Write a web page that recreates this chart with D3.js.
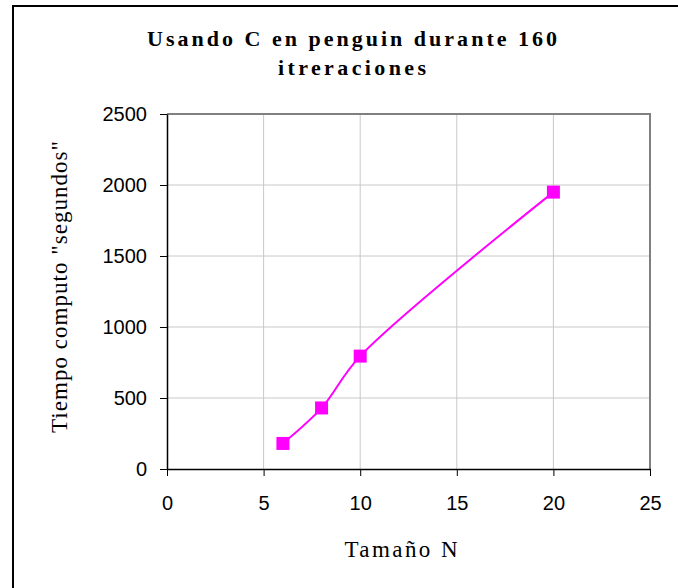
<!DOCTYPE html>
<html>
<head>
<meta charset="utf-8">
<script src="https://cdn.jsdelivr.net/npm/d3@7"></script>
<style>
  body { margin: 0; background: #fff; }
  svg { display: block; }
</style>
</head>
<body>
<div id="chart"></div>
<script>
// data
const tamanoN = [6, 8, 10, 20];
const tiempo = [180, 430, 795, 1950];
const xTicks = [0, 5, 10, 15, 20, 25];
const yTicks = [0, 500, 1000, 1500, 2000, 2500];
const titleLines = ["Usando C en penguin durante 160", "itreraciones"];

const width = 678, height = 588;
const margin = { top: 114, right: 28, bottom: 119, left: 167 };
const plotW = width - margin.left - margin.right,
  plotH = height - margin.top - margin.bottom;

const serif = "'Liberation Serif', 'Times New Roman', serif";

const svg = d3.select("#chart")
  .append("svg")
  .attr("width", width)
  .attr("height", height);

// outer chart frame (runs off the right and bottom edges)
svg.append("rect")
  .attr("x", 13).attr("y", 6)
  .attr("width", width + 20).attr("height", height + 20)
  .attr("fill", "none")
  .attr("stroke", "#000")
  .attr("stroke-width", 2);

const g = svg.append("g")
  .attr("transform", `translate(${margin.left},${margin.top})`);

const x = d3.scaleLinear().domain([0, 25]).range([0, plotW]);
const y = d3.scaleLinear().domain([0, 2500]).range([plotH, 0]);

// gridlines
g.selectAll(".vgrid")
  .data(xTicks.slice(1))
  .join("line")
  .attr("x1", d => x(d)).attr("x2", d => x(d))
  .attr("y1", 0).attr("y2", plotH)
  .attr("stroke", "#c8c8c8")
  .attr("stroke-width", 1);

g.selectAll(".hgrid")
  .data(yTicks.slice(1))
  .join("line")
  .attr("x1", 0).attr("x2", plotW)
  .attr("y1", d => y(d)).attr("y2", d => y(d))
  .attr("stroke", "#c8c8c8")
  .attr("stroke-width", 1);

// plot area border (top and right grey)
g.append("path")
  .attr("d", `M0,0H${plotW}V${plotH}`)
  .attr("fill", "none")
  .attr("stroke", "#808080")
  .attr("stroke-width", 2);

// axes
const xAxis = g.append("g")
  .attr("transform", `translate(0,${plotH})`)
  .call(d3.axisBottom(x).tickValues(xTicks).tickFormat(d3.format("d"))
    .tickSize(7).tickPadding(20).tickSizeOuter(0));

const yAxis = g.append("g")
  .call(d3.axisLeft(y).tickValues(yTicks).tickFormat(d3.format("d"))
    .tickSize(7).tickPadding(13).tickSizeOuter(0));

[xAxis, yAxis].forEach(a => {
  a.select(".domain").attr("stroke", "#000").attr("stroke-width", 1.5);
  a.selectAll(".tick line").attr("stroke", "#000");
  a.selectAll(".tick text")
    .attr("fill", "#000")
    .style("font-family", "'Liberation Sans', Arial, sans-serif")
    .style("font-size", "20px");
});

// smoothed line
const line = d3.line()
  .x((d, i) => x(tamanoN[i]))
  .y(d => y(d))
  .curve(d3.curveCatmullRom.alpha(0.5));

g.append("path")
  .datum(tiempo)
  .attr("fill", "none")
  .attr("stroke", "#ff00ff")
  .attr("stroke-width", 2)
  .attr("d", line);

g.selectAll(".marker")
  .data(tiempo)
  .join("rect")
  .attr("x", (d, i) => x(tamanoN[i]) - 6.5)
  .attr("y", d => y(d) - 6.5)
  .attr("width", 13)
  .attr("height", 13)
  .attr("fill", "#ff00ff");

// title
const titleWidths = [410, 148];
svg.selectAll(".title")
  .data(titleLines)
  .join("text")
  .attr("x", 352)
  .attr("y", (d, i) => 46 + i * 29)
  .attr("text-anchor", "middle")
  .attr("textLength", (d, i) => titleWidths[i])
  .attr("lengthAdjust", "spacing")
  .style("font-family", serif)
  .style("font-weight", "bold")
  .style("font-size", "22px")
  .text(d => d);

// axis titles
svg.append("text")
  .attr("x", 401)
  .attr("y", 557)
  .attr("text-anchor", "middle")
  .attr("textLength", 113)
  .attr("lengthAdjust", "spacing")
  .style("font-family", serif)
  .style("font-size", "23px")
  .text("Tamaño N");

svg.append("text")
  .attr("transform", "translate(67,287) rotate(-90)")
  .attr("text-anchor", "middle")
  .attr("textLength", 292)
  .attr("lengthAdjust", "spacing")
  .style("font-family", serif)
  .style("font-size", "23px")
  .text('Tiempo computo "segundos"');
</script>
</body>
</html>
